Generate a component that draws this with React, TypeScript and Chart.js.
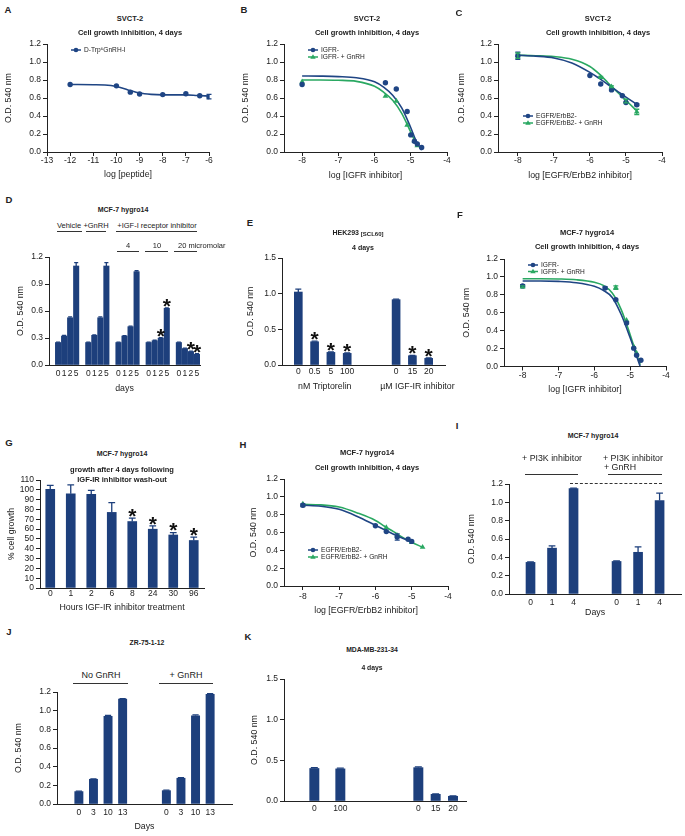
import React, { useEffect, useRef } from 'react';
import { Chart, registerables } from 'chart.js';

Chart.register(...registerables);

const FONT = '"Liberation Sans", Arial, Helvetica, sans-serif';
Chart.defaults.font.family = FONT;
Chart.defaults.color = '#222';
if (typeof document !== 'undefined') document.body.style.margin = '0';

const INK = '#222';
const BAR = '#1d3f7c';
const NAVY = '#1f4584';
const GREEN = '#2aa862';

// ================= DATA =================
// A  SVCT-2, D-Trp6GnRH-I
const aDoseX = [-12, -10, -9.4, -9, -8, -7, -6.4, -6];
const aOD = [0.75, 0.735, 0.665, 0.645, 0.638, 0.648, 0.625, 0.615];
const aErr = [0, 0, 0, 0, 0, 0, 0, 0.025];
const aFitX = [-12, -11, -10.5, -10, -9.5, -9, -8.5, -8, -7, -6.5, -6];
const aFitY = [0.75, 0.748, 0.745, 0.728, 0.69, 0.655, 0.64, 0.635, 0.635, 0.628, 0.622];

// B  SVCT-2, IGFR inhibitor
const bIgfX = [-8, -5.7, -5.4, -5.1, -5.0, -4.9, -4.82, -4.7];
const bIgfY = [0.75, 0.77, 0.70, 0.45, 0.19, 0.12, 0.09, 0.05];
const bGnX = [-8, -5.7, -5.4, -5.1, -5.0, -4.9, -4.82];
const bGnY = [0.78, 0.62, 0.565, 0.30, 0.20, 0.12, 0.07];
const bFitIgfX = [-8, -7.5, -7, -6.5, -6, -5.75, -5.5, -5.25, -5, -4.85, -4.7];
const bFitIgfY = [0.845, 0.843, 0.838, 0.825, 0.78, 0.72, 0.63, 0.49, 0.27, 0.12, 0.02];
const bFitGnX = [-8, -7.5, -7, -6.5, -6, -5.75, -5.5, -5.25, -5, -4.82];
const bFitGnY = [0.80, 0.80, 0.797, 0.785, 0.73, 0.665, 0.575, 0.43, 0.22, 0.06];

// C  SVCT-2, EGFR/ErbB2 inhibitor
const cEgfX = [-8, -6, -5.7, -5.4, -5.1, -5.0, -4.7];
const cEgfY = [1.07, 0.85, 0.755, 0.69, 0.625, 0.55, 0.525];
const cEgfErr = [0.04, 0, 0, 0, 0, 0, 0.01];
const cGnX = [-8, -5.7, -5.4, -5.0, -4.7];
const cGnY = [1.07, 0.83, 0.725, 0.565, 0.445];
const cGnErr = [0.03, 0.01, 0.01, 0.02, 0.03];
const cFitX = [-8, -7.5, -7, -6.5, -6, -5.75, -5.5, -5.25, -5, -4.7];
const cFitEgfY = [1.075, 1.065, 1.045, 0.99, 0.885, 0.82, 0.75, 0.68, 0.61, 0.53];
const cFitGnY = [1.075, 1.07, 1.06, 1.03, 0.95, 0.87, 0.77, 0.67, 0.575, 0.455];

// D  MCF-7 hygro14, days
const dDays = ['0', '1', '2', '5'];
const dVehicle = [0.25, 0.322, 0.525, 1.10];
const dGnRH = [0.25, 0.33, 0.525, 1.10];
const dIgf4 = [0.25, 0.322, 0.426, 1.037];
const dIgf10 = [0.25, 0.27, 0.298, 0.63];
const dIgf20 = [0.25, 0.183, 0.15, 0.12];
const dVehicleErr = [0.005, 0.008, 0.01, 0.037];
const dGnRHErr = [0.005, 0.005, 0.01, 0.037];
const dIgf4Err = [0.005, 0.005, 0.005, 0.01];
const dIgf10Err = [0.005, 0.005, 0.005, 0.005];
const dIgf20Err = [0.005, 0.005, 0.005, 0.005];
const dIgf10Star = [0, 0, 1, 1];
const dIgf20Star = [0, 0, 1, 1];

// E  HEK293 [SCL60]
const eLabels = ['', '0', '0.5', '5', '100', '', '', '0', '15', '20', ''];
const eOD = [null, 1.023, 0.326, 0.177, 0.163, null, null, 0.916, 0.13, 0.093, null];
const eErr = [0, 0.04, 0.008, 0.006, 0.006, 0, 0, 0.008, 0.006, 0.005, 0];
const eStar = [0, 0, 1, 1, 1, 0, 0, 0, 1, 1, 0];

// F  MCF-7 hygro14, IGFR inhibitor
const fIgfX = [-8, -5.7, -5.4, -5.1, -4.9, -4.82, -4.7];
const fIgfY = [0.90, 0.875, 0.745, 0.485, 0.205, 0.125, 0.07];
const fIgfErr = [0.015, 0.015, 0, 0, 0, 0, 0];
const fGnX = [-8, -5.4, -5.1, -4.9, -4.82];
const fGnY = [0.89, 0.88, 0.515, 0.22, 0.15];
const fGnErr = [0.01, 0.02, 0, 0, 0];
const fFitX = [-8, -7.5, -7, -6.5, -6, -5.75, -5.5, -5.25, -5, -4.85, -4.72];
const fFitIgfY = [0.955, 0.955, 0.95, 0.935, 0.895, 0.85, 0.77, 0.58, 0.32, 0.15, 0.0];
const fFitGnY = [0.98, 0.98, 0.977, 0.968, 0.94, 0.905, 0.82, 0.635, 0.355, 0.17, 0.02];

// G  wash-out
const gHours = ['0', '1', '2', '6', '8', '24', '30', '96'];
const gGrowth = [100.5, 96, 95.4, 77, 67.7, 59.9, 54, 48.4];
const gErr = [4, 9, 4, 10, 3.4, 3.4, 2.5, 3.4];
const gStar = [0, 0, 0, 0, 1, 1, 1, 1];

// H  MCF-7 hygro14, EGFR/ErbB2 inhibitor
const hEgfX = [-8, -6, -5.7, -5.4, -5.1, -5.0];
const hEgfY = [0.905, 0.675, 0.61, 0.55, 0.525, 0.50];
const hEgfErr = [0.015, 0, 0, 0.035, 0, 0];
const hGnX = [-8, -5.7, -5.4, -5.0, -4.7];
const hGnY = [0.92, 0.655, 0.565, 0.49, 0.435];
const hFitEgfX = [-8, -7.5, -7, -6.5, -6, -5.75, -5.5, -5.25, -5];
const hFitEgfY = [0.905, 0.895, 0.86, 0.78, 0.68, 0.63, 0.58, 0.535, 0.50];
const hFitGnX = [-8, -7.5, -7, -6.5, -6, -5.75, -5.5, -5.25, -5, -4.7];
const hFitGnY = [0.915, 0.91, 0.885, 0.82, 0.735, 0.67, 0.61, 0.545, 0.49, 0.435];

// I  PI3K inhibitor
const iDays = ['0', '1', '4'];
const iPi3k = [0.345, 0.50, 1.15];
const iPi3kErr = [0.005, 0.025, 0.005];
const iPi3kGn = [0.355, 0.455, 1.02];
const iPi3kGnErr = [0.005, 0.06, 0.08];

// J  ZR-75-1-12
const jDays = ['0', '3', '10', '13'];
const jNoGn = [0.133, 0.265, 0.94, 1.125];
const jNoGnErr = [0.005, 0.005, 0.01, 0.005];
const jGn = [0.143, 0.276, 0.945, 1.175];
const jGnErr = [0.005, 0.005, 0.01, 0.008];

// K  MDA-MB-231-34
const kLabels = ['', '', '', '0', '', '', '100', '', '', '', '', '', '', '', '', '0', '', '15', '', '20', ''];
const kOD = [null, null, null, 0.40, null, null, 0.395, null, null, null, null, null, null, null, null, 0.41, null, 0.082, null, 0.058, null];
const kErr = [0, 0, 0, 0.01, 0, 0, 0.01, 0, 0, 0, 0, 0, 0, 0, 0, 0.01, 0, 0.005, 0, 0.005, 0];

// ================= HELPERS =================
const AX_FS = 8.8;
const AX_LH = AX_FS * 1.2;
const TK_FS = 8.5;
const TK_LH = TK_FS * 1.2;

type Geom = { l: number; t: number; r: number; b: number; yT: number; xT: number; xTick: number; tl: number };

function frame(g: Geom) {
  const cl = Math.floor(g.yT - AX_LH / 2);
  const ct = Math.floor(g.t - 10);
  const cr = Math.min(685, Math.ceil(g.r + 12));
  const cb = Math.ceil(g.xT + AX_LH / 2);
  return {
    cl, ct, w: cr - cl, h: cb - ct,
    padTop: g.t - ct, padRight: cr - g.r,
    yW: g.l - cl, xH: cb - g.b,
    yTitlePad: Math.max(0, g.yT - cl - AX_LH / 2),
    xTitlePad: Math.max(0, cb - g.xT - AX_LH / 2),
    xTickPad: g.xTick - g.b - g.tl - TK_LH / 2,
    tl: g.tl,
  };
}
type Frame = ReturnType<typeof frame>;

const zip = (xs: number[], ys: number[]) => xs.map((x, i) => ({ x, y: ys[i] }));

function yAxis(f: Frame, min: number, max: number, step: number, dec: number, title = 'O.D. 540 nm') {
  return {
    type: 'linear', position: 'left', min, max,
    ticks: { stepSize: step, autoSkip: false, padding: 2, color: INK, font: { size: TK_FS }, callback: (v: number) => Number(v).toFixed(dec) },
    grid: { drawOnChartArea: false, drawTicks: true, tickLength: 4, color: INK, lineWidth: 1 },
    border: { color: INK, width: 1 },
    title: { display: true, text: title, color: INK, font: { size: AX_FS }, padding: { top: f.yTitlePad, bottom: 0 } },
    afterFit: (s: any) => { s.width = f.yW; },
  };
}

function xLinear(f: Frame, min: number, max: number, title: string) {
  return {
    type: 'linear', position: 'bottom', min, max,
    afterBuildTicks: (s: any) => {
      const out: any[] = [];
      for (let v = Math.ceil(s.min - 1e-9); v <= Math.floor(s.max + 1e-9); v++) out.push({ value: v });
      s.ticks = out;
    },
    ticks: { stepSize: 1, autoSkip: false, maxRotation: 0, padding: f.xTickPad, color: INK, font: { size: TK_FS } },
    grid: { drawOnChartArea: false, drawTicks: true, tickLength: f.tl, color: INK },
    border: { color: INK, width: 1 },
    title: { display: true, text: title, color: INK, font: { size: AX_FS }, padding: { top: 0, bottom: f.xTitlePad } },
    afterFit: (s: any) => { s.height = f.xH; },
  };
}

function xCat(f: Frame, offset: boolean, title?: string) {
  return {
    type: 'category', position: 'bottom', offset,
    ticks: { autoSkip: false, maxRotation: 0, minRotation: 0, padding: f.xTickPad, color: INK, font: { size: TK_FS } },
    grid: { display: false, drawTicks: false, offset },
    border: { color: INK, width: 1 },
    title: title
      ? { display: true, text: title, color: INK, font: { size: AX_FS }, padding: { top: 0, bottom: f.xTitlePad } }
      : { display: false },
    afterFit: (s: any) => { s.height = f.xH; },
  };
}

function fitSet(xs: number[], ys: number[], color: string) {
  return { type: 'line', data: zip(xs, ys), borderColor: color, borderWidth: 1.6, pointRadius: 0, cubicInterpolationMode: 'monotone', fill: false, order: 2 };
}
function ptSet(xs: number[], ys: number[], color: string, style: string, errors?: number[], legendText?: string) {
  return {
    type: 'scatter', data: zip(xs, ys), backgroundColor: color, borderColor: color,
    pointBackgroundColor: color, pointBorderColor: color, pointBorderWidth: 0,
    pointRadius: style === 'triangle' ? 3.3 : 2.7, pointStyle: style, showLine: false,
    errors, errColor: color, legendText, legendStyle: style, order: 1,
  };
}
function barSet(data: (number | null)[], errors: number[], stars: number[] | undefined, thick: number) {
  return { data, errors, stars, backgroundColor: BAR, borderWidth: 0, barThickness: thick, errColor: BAR };
}

function drawMarker(ctx: CanvasRenderingContext2D, style: string, x: number, y: number, r: number, color: string) {
  ctx.save();
  ctx.fillStyle = color;
  ctx.beginPath();
  if (style === 'triangle') {
    const h = r * 1.25;
    ctx.moveTo(x, y - h);
    ctx.lineTo(x + h * 0.95, y + h * 0.6);
    ctx.lineTo(x - h * 0.95, y + h * 0.6);
    ctx.closePath();
  } else {
    ctx.arc(x, y, r, 0, Math.PI * 2);
  }
  ctx.fill();
  ctx.restore();
}

const errorBars = {
  id: 'errorBars',
  afterDatasetsDraw(chart: any) {
    const ctx = chart.ctx;
    const ys = chart.scales.y;
    chart.data.datasets.forEach((ds: any, di: number) => {
      if (!ds.errors) return;
      const meta = chart.getDatasetMeta(di);
      const isBar = meta.type === 'bar';
      meta.data.forEach((el: any, i: number) => {
        const e = ds.errors[i];
        if (!e) return;
        const raw = ds.data[i];
        const v = typeof raw === 'number' ? raw : raw && raw.y;
        if (v == null) return;
        const x = el.x;
        const yTop = ys.getPixelForValue(v + e);
        const yBot = isBar ? ys.getPixelForValue(v) : ys.getPixelForValue(v - e);
        const cap = isBar ? el.width * 0.75 : 5;
        ctx.save();
        ctx.strokeStyle = ds.errColor || BAR;
        ctx.lineWidth = 1.3;
        ctx.beginPath();
        ctx.moveTo(x, yBot);
        ctx.lineTo(x, yTop);
        ctx.moveTo(x - cap / 2, yTop);
        ctx.lineTo(x + cap / 2, yTop);
        if (!isBar) {
          ctx.moveTo(x - cap / 2, yBot);
          ctx.lineTo(x + cap / 2, yBot);
        }
        ctx.stroke();
        ctx.restore();
      });
    });
  },
};

const STAR_FS = 21;
const starMarks = {
  id: 'starMarks',
  afterDatasetsDraw(chart: any) {
    const ctx = chart.ctx;
    const ys = chart.scales.y;
    chart.data.datasets.forEach((ds: any, di: number) => {
      if (!ds.stars) return;
      const meta = chart.getDatasetMeta(di);
      meta.data.forEach((el: any, i: number) => {
        if (!ds.stars[i]) return;
        const v = ds.data[i];
        if (v == null) return;
        const top = ys.getPixelForValue(v + ((ds.errors && ds.errors[i]) || 0));
        const cy = top - 7;
        ctx.save();
        ctx.fillStyle = '#111';
        ctx.font = `bold ${STAR_FS}px ${FONT}`;
        ctx.textAlign = 'center';
        ctx.textBaseline = 'alphabetic';
        ctx.fillText('*', el.x, cy + STAR_FS * 0.57);
        ctx.restore();
      });
    });
  },
};

const miniLegend = {
  id: 'miniLegend',
  afterDraw(chart: any, _a: any, opts: any) {
    if (!opts || opts.dx == null) return;
    const { ctx, chartArea } = chart;
    let k = 0;
    chart.data.datasets.forEach((ds: any) => {
      if (!ds.legendText) return;
      const x0 = chartArea.left + opts.dx;
      const y = chartArea.top + opts.dy + k * opts.gap;
      k++;
      const color = ds.pointBackgroundColor;
      ctx.save();
      ctx.strokeStyle = color;
      ctx.lineWidth = 1.5;
      ctx.beginPath();
      ctx.moveTo(x0, y);
      ctx.lineTo(x0 + 10, y);
      ctx.stroke();
      drawMarker(ctx, ds.legendStyle, x0 + 5, y, 2.3, color);
      ctx.fillStyle = INK;
      ctx.font = `6.6px ${FONT}`;
      ctx.textBaseline = 'middle';
      ctx.textAlign = 'left';
      ctx.fillText(ds.legendText, x0 + 13, y + 0.5);
      ctx.restore();
    });
  },
};

const groupText = {
  id: 'groupText',
  afterDraw(chart: any, _a: any, opts: any) {
    if (!opts || !opts.items) return;
    const xs = chart.scales.x;
    const { ctx, chartArea } = chart;
    ctx.save();
    ctx.fillStyle = INK;
    ctx.font = `${AX_FS}px ${FONT}`;
    ctx.textAlign = 'center';
    ctx.textBaseline = 'middle';
    opts.items.forEach((it: any) => {
      const x = (xs.getPixelForValue(it.from) + xs.getPixelForValue(it.to)) / 2 + (it.shift || 0);
      ctx.fillText(it.text, x, chartArea.bottom + opts.dy);
    });
    ctx.restore();
  },
};

// ================= PANELS =================
type PanelDef = { g: Geom; make: (f: Frame) => any };

const withBlanks = (groups: any[][]) => {
  const out: any[] = [];
  groups.forEach((gr) => { out.push(null); out.push(...gr); });
  return out;
};

const PANELS: PanelDef[] = [
  // A
  {
    g: { l: 47, t: 44, r: 209, b: 152, yT: 9, xT: 175, xTick: 161, tl: 4 },
    make: (f) => ({
      type: 'scatter',
      data: { datasets: [ptSet(aDoseX, aOD, NAVY, 'circle', aErr, 'D-Trp⁶GnRH-I'), fitSet(aFitX, aFitY, NAVY)] },
      options: { scales: { x: xLinear(f, -13, -6, 'log [peptide]'), y: yAxis(f, 0, 1.2, 0.2, 1) }, plugins: { miniLegend: { dx: 24, dy: 6, gap: 7 } } },
    }),
  },
  // B
  {
    g: { l: 284, t: 44, r: 447, b: 152, yT: 246, xT: 176, xTick: 161, tl: 4 },
    make: (f) => ({
      type: 'scatter',
      data: {
        datasets: [
          ptSet(bIgfX, bIgfY, NAVY, 'circle', undefined, 'IGFR-'),
          ptSet(bGnX, bGnY, GREEN, 'triangle', undefined, 'IGFR- + GnRH'),
          fitSet(bFitIgfX, bFitIgfY, NAVY),
          fitSet(bFitGnX, bFitGnY, GREEN),
        ],
      },
      options: { scales: { x: xLinear(f, -8.5, -4, 'log [IGFR inhibitor]'), y: yAxis(f, 0, 1.2, 0.2, 1) }, plugins: { miniLegend: { dx: 24, dy: 6, gap: 7 } } },
    }),
  },
  // C
  {
    g: { l: 498, t: 44, r: 662, b: 152, yT: 462, xT: 176, xTick: 161, tl: 4 },
    make: (f) => ({
      type: 'scatter',
      data: {
        datasets: [
          ptSet(cEgfX, cEgfY, NAVY, 'circle', cEgfErr, 'EGFR/ErbB2-'),
          ptSet(cGnX, cGnY, GREEN, 'triangle', cGnErr, 'EGFR/ErbB2- + GnRH'),
          fitSet(cFitX, cFitEgfY, NAVY),
          fitSet(cFitX, cFitGnY, GREEN),
        ],
      },
      options: { scales: { x: xLinear(f, -8.55, -4, 'log [EGFR/ErbB2 inhibitor]'), y: yAxis(f, 0, 1.2, 0.2, 1) }, plugins: { miniLegend: { dx: 25, dy: 72, gap: 7 } } },
    }),
  },
  // D
  {
    g: { l: 49, t: 257, r: 200, b: 365, yT: 21, xT: 389, xTick: 374, tl: 0 },
    make: (f) => ({
      type: 'bar',
      data: {
        labels: withBlanks([dDays, dDays, dDays, dDays, dDays]).map((v) => (v == null ? '' : v)),
        datasets: [
          barSet(
            withBlanks([dVehicle, dGnRH, dIgf4, dIgf10, dIgf20]),
            withBlanks([dVehicleErr, dGnRHErr, dIgf4Err, dIgf10Err, dIgf20Err]).map((v) => v || 0),
            withBlanks([[0, 0, 0, 0], [0, 0, 0, 0], [0, 0, 0, 0], dIgf10Star, dIgf20Star]).map((v) => v || 0),
            5.4,
          ),
        ],
      },
      options: { scales: { x: xCat(f, true, 'days'), y: yAxis(f, 0, 1.2, 0.3, 1) } },
    }),
  },
  // E
  {
    g: { l: 282, t: 258, r: 445, b: 365, yT: 251, xT: 388, xTick: 372, tl: 0 },
    make: (f) => ({
      type: 'bar',
      data: { labels: eLabels, datasets: [barSet(eOD, eErr, eStar, 8)] },
      options: {
        scales: { x: xCat(f, false), y: yAxis(f, 0, 1.5, 0.5, 1) },
        plugins: { groupText: { dy: 22, items: [{ from: 1, to: 4, text: 'nM Triptorelin', shift: 2 }, { from: 7, to: 9, text: 'µM IGF-IR inhibitor', shift: 5 }] } },
      },
    }),
  },
  // F
  {
    g: { l: 504, t: 259, r: 666, b: 366.5, yT: 467, xT: 390, xTick: 376, tl: 4 },
    make: (f) => ({
      type: 'scatter',
      data: {
        datasets: [
          ptSet(fIgfX, fIgfY, NAVY, 'circle', fIgfErr, 'IGFR-'),
          ptSet(fGnX, fGnY, GREEN, 'triangle', fGnErr, 'IGFR- + GnRH'),
          fitSet(fFitX, fFitIgfY, NAVY),
          fitSet(fFitX, fFitGnY, GREEN),
        ],
      },
      options: { scales: { x: xLinear(f, -8.52, -4, 'log [IGFR inhibitor]'), y: yAxis(f, 0, 1.2, 0.2, 1) }, plugins: { miniLegend: { dx: 24, dy: 6, gap: 6.5 } } },
    }),
  },
  // G
  {
    g: { l: 40, t: 480, r: 204, b: 588, yT: 12, xT: 608, xTick: 594, tl: 0 },
    make: (f) => ({
      type: 'bar',
      data: { labels: gHours, datasets: [barSet(gGrowth, gErr, gStar, 9)] },
      options: { scales: { x: xCat(f, true, 'Hours IGF-IR inhibitor treatment'), y: yAxis(f, 0, 110, 10, 0, '% cell growth') } },
    }),
  },
  // H
  {
    g: { l: 284, t: 479, r: 448, b: 586, yT: 254, xT: 611, xTick: 597, tl: 4 },
    make: (f) => ({
      type: 'scatter',
      data: {
        datasets: [
          ptSet(hEgfX, hEgfY, NAVY, 'circle', hEgfErr, 'EGFR/ErbB2-'),
          ptSet(hGnX, hGnY, GREEN, 'triangle', undefined, 'EGFR/ErbB2- + GnRH'),
          fitSet(hFitEgfX, hFitEgfY, NAVY),
          fitSet(hFitGnX, hFitGnY, GREEN),
        ],
      },
      options: { scales: { x: xLinear(f, -8.52, -4, 'log [EGFR/ErbB2 inhibitor]'), y: yAxis(f, 0, 1.2, 0.2, 1) }, plugins: { miniLegend: { dx: 24, dy: 71, gap: 7 } } },
    }),
  },
  // I
  {
    g: { l: 509, t: 484, r: 684, b: 594, yT: 472, xT: 613, xTick: 603, tl: 0 },
    make: (f) => ({
      type: 'bar',
      data: {
        labels: ['', ...iDays, '', ...iDays, ''],
        datasets: [barSet([null, ...iPi3k, null, ...iPi3kGn, null], [0, ...iPi3kErr, 0, ...iPi3kGnErr, 0], undefined, 9)],
      },
      options: { scales: { x: xCat(f, false, 'Days'), y: yAxis(f, 0, 1.2, 0.2, 1) } },
    }),
  },
  // J
  {
    g: { l: 57, t: 692, r: 232, b: 804, yT: 19, xT: 827, xTick: 813, tl: 0 },
    make: (f) => ({
      type: 'bar',
      data: {
        labels: ['', ...jDays, '', '', ...jDays, ''],
        datasets: [barSet([null, ...jNoGn, null, null, ...jGn, null], [0, ...jNoGnErr, 0, 0, ...jGnErr, 0], undefined, 8.3)],
      },
      options: { scales: { x: xCat(f, true, 'Days'), y: yAxis(f, 0, 1.2, 0.2, 1) } },
    }),
  },
  // K
  {
    g: { l: 284, t: 679, r: 466, b: 801, yT: 255, xT: 822, xTick: 809, tl: 0 },
    make: (f) => ({
      type: 'bar',
      data: { labels: kLabels, datasets: [barSet(kOD, kErr, undefined, 9.3)] },
      options: {
        scales: { x: xCat(f, true), y: yAxis(f, 0, 1.5, 0.5, 1) },
        plugins: { groupText: { dy: 19, items: [{ from: 3, to: 6, text: 'nM Triptorelin' }, { from: 15, to: 19, text: 'µM IGF-IR inhibitor' }] } },
      },
    }),
  },
];

function ChartPanel({ g, make }: PanelDef) {
  const ref = useRef<HTMLCanvasElement>(null);
  const f = frame(g);
  useEffect(() => {
    const cfg = make(f);
    const o = cfg.options || {};
    cfg.options = {
      ...o,
      responsive: false,
      maintainAspectRatio: false,
      animation: false,
      devicePixelRatio: 1,
      layout: { padding: { top: f.padTop, right: f.padRight, left: 0, bottom: 0 } },
      plugins: { legend: { display: false }, tooltip: { enabled: false }, title: { display: false }, ...(o.plugins || {}) },
    };
    cfg.plugins = [errorBars, starMarks, miniLegend, groupText];
    const chart = new Chart(ref.current as HTMLCanvasElement, cfg);
    return () => chart.destroy();
  }, []);
  return (
    <canvas
      ref={ref}
      width={f.w}
      height={f.h}
      style={{ position: 'absolute', left: f.cl, top: f.ct, width: f.w, height: f.h }}
    />
  );
}

function T({ x, y, s = 7.5, b = false, a = 'c', children }: any) {
  const tr = a === 'c' ? 'translate(-50%,-50%)' : a === 'l' ? 'translate(0,-50%)' : 'translate(-100%,-50%)';
  return (
    <div
      style={{
        position: 'absolute', left: x, top: y, transform: tr, fontSize: s, fontWeight: b ? 700 : 400,
        whiteSpace: 'nowrap', lineHeight: 1, color: INK, fontFamily: FONT,
      }}
    >
      {children}
    </div>
  );
}

function HL({ x1, x2, y, dashed = false }: any) {
  return (
    <div
      style={{
        position: 'absolute', left: x1, top: y, width: x2 - x1, height: 0,
        borderTop: dashed ? '1.3px dashed #333' : '1px solid #333',
      }}
    />
  );
}

const CG = 'Cell growth inhibition, 4 days';

export default function App() {
  return (
    <div style={{ position: 'relative', width: 685, height: 836, overflow: 'hidden', background: '#fff', fontFamily: FONT }}>
      {PANELS.map((p, i) => (
        <ChartPanel key={i} g={p.g} make={p.make} />
      ))}

      {/* panel letters */}
      <T x={8} y={10} s={9.5} b>A</T>
      <T x={244} y={10} s={9.5} b>B</T>
      <T x={459} y={13} s={9.5} b>C</T>
      <T x={9} y={200} s={9.5} b>D</T>
      <T x={250} y={223} s={9.5} b>E</T>
      <T x={460} y={215} s={9.5} b>F</T>
      <T x={9} y={443} s={9.5} b>G</T>
      <T x={243} y={445} s={9.5} b>H</T>
      <T x={457} y={426} s={9.5} b>I</T>
      <T x={9} y={632} s={9.5} b>J</T>
      <T x={248} y={637} s={9.5} b>K</T>

      {/* A, B, C titles */}
      <T x={130} y={19} b>SVCT-2</T>
      <T x={130} y={33} b>{CG}</T>
      <T x={367} y={19} b>SVCT-2</T>
      <T x={367} y={33} b>{CG}</T>
      <T x={598} y={19} b>SVCT-2</T>
      <T x={598} y={33} b>{CG}</T>

      {/* D */}
      <T x={123} y={209} s={7} b>MCF-7 hygro14</T>
      <T x={69} y={226}>Vehicle</T>
      <T x={96} y={226}>+GnRH</T>
      <T x={157} y={226}>+IGF-I receptor inhibitor</T>
      <HL x1={57} x2={82} y={231} />
      <HL x1={86} x2={106} y={231} />
      <HL x1={116} x2={197} y={231} />
      <T x={128} y={246}>4</T>
      <T x={157} y={246}>10</T>
      <T x={178} y={246} a="l">20 micromolar</T>
      <HL x1={117} x2={139} y={251} />
      <HL x1={145} x2={168} y={251} />
      <HL x1={174} x2={197} y={251} />

      {/* E */}
      <T x={358} y={232} s={7} b>
        HEK293 <span style={{ fontSize: 6, position: 'relative', top: 1 }}>[SCL60]</span>
      </T>
      <T x={363} y={247} s={7} b>4 days</T>

      {/* F */}
      <T x={587} y={233} b>MCF-7 hygro14</T>
      <T x={587} y={247} b>{CG}</T>

      {/* G */}
      <T x={122} y={453} s={7} b>MCF-7 hygro14</T>
      <T x={122} y={470} b>growth after 4 days following</T>
      <T x={122} y={480} b>IGF-IR inhibitor wash-out</T>

      {/* H */}
      <T x={367} y={453} b>MCF-7 hygro14</T>
      <T x={367} y={468} b>{CG}</T>

      {/* I */}
      <T x={593} y={435} s={7} b>MCF-7 hygro14</T>
      <T x={552} y={458} s={8.8}>+ PI3K inhibitor</T>
      <T x={603} y={458} s={8.8} a="l">+ PI3K inhibitor</T>
      <T x={604} y={467} s={8.8} a="l">+ GnRH</T>
      <HL x1={525} x2={578} y={474} />
      <HL x1={608} x2={662} y={474} />
      <HL x1={570} x2={662} y={483} dashed />

      {/* J */}
      <T x={147} y={643} s={6.8} b>ZR-75-1-12</T>
      <T x={101} y={675} s={9}>No GnRH</T>
      <T x={186} y={675} s={9}>+ GnRH</T>
      <HL x1={73} x2={128} y={683} />
      <HL x1={159} x2={213} y={683} />

      {/* K */}
      <T x={372} y={650} s={6.8} b>MDA-MB-231-34</T>
      <T x={372} y={668} s={6.8} b>4 days</T>
    </div>
  );
}
